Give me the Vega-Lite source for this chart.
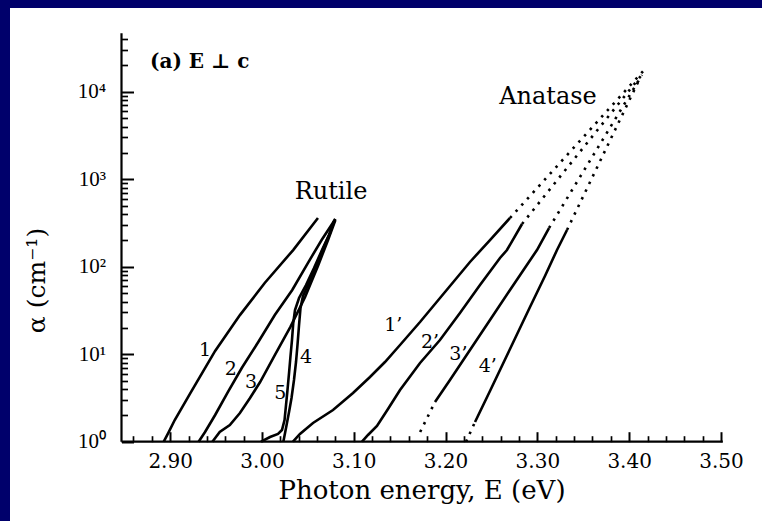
{
  "$schema": "https://vega.github.io/schema/vega-lite/v6.json",
  "width": 752,
  "height": 513,
  "autosize": {"type": "none"},
  "padding": {"left": 10, "top": 8, "right": 0, "bottom": 0},
  "background": "#00006b",
  "config": {"view": {"fill": "white", "stroke": null}, "axis": {"grid": false}},
  "datasets": {
    "solid": [
      {"curve": "1", "x": 2.893, "y": 1.0}, {"curve": "1", "x": 2.898, "y": 1.26}, {"curve": "1", "x": 2.905, "y": 1.77}, {"curve": "1", "x": 2.922, "y": 3.6}, {"curve": "1", "x": 2.949, "y": 10.9}, {"curve": "1", "x": 2.976, "y": 28.0}, {"curve": "1", "x": 3.003, "y": 65.1}, {"curve": "1", "x": 3.034, "y": 155}, {"curve": "1", "x": 3.061, "y": 360},
      {"curve": "2", "x": 2.931, "y": 1.0}, {"curve": "2", "x": 2.938, "y": 1.29}, {"curve": "2", "x": 2.949, "y": 2.02}, {"curve": "2", "x": 2.963, "y": 3.7}, {"curve": "2", "x": 2.978, "y": 6.96}, {"curve": "2", "x": 2.996, "y": 13.8}, {"curve": "2", "x": 3.014, "y": 28.0}, {"curve": "2", "x": 3.033, "y": 54.2}, {"curve": "2", "x": 3.05, "y": 110}, {"curve": "2", "x": 3.065, "y": 202}, {"curve": "2", "x": 3.08, "y": 351},
      {"curve": "3", "x": 2.946, "y": 1.0}, {"curve": "3", "x": 2.954, "y": 1.29}, {"curve": "3", "x": 2.965, "y": 1.55}, {"curve": "3", "x": 2.976, "y": 2.13}, {"curve": "3", "x": 2.987, "y": 3.16}, {"curve": "3", "x": 2.998, "y": 4.81}, {"curve": "3", "x": 3.014, "y": 9.79}, {"curve": "3", "x": 3.031, "y": 20.5}, {"curve": "3", "x": 3.047, "y": 45.0}, {"curve": "3", "x": 3.061, "y": 102}, {"curve": "3", "x": 3.072, "y": 202}, {"curve": "3", "x": 3.08, "y": 342},
      {"curve": "4", "x": 3.0233, "y": 1.0}, {"curve": "4", "x": 3.0262, "y": 1.434}, {"curve": "4", "x": 3.0295, "y": 2.185}, {"curve": "4", "x": 3.0322, "y": 3.158}, {"curve": "4", "x": 3.0349, "y": 5.073}, {"curve": "4", "x": 3.0371, "y": 8.145}, {"curve": "4", "x": 3.0387, "y": 12.74}, {"curve": "4", "x": 3.0404, "y": 21.56}, {"curve": "4", "x": 3.042, "y": 33.73}, {"curve": "4", "x": 3.0447, "y": 46.25}, {"curve": "4", "x": 3.0502, "y": 61.78}, {"curve": "4", "x": 3.0578, "y": 96.6}, {"curve": "4", "x": 3.0665, "y": 159.3}, {"curve": "4", "x": 3.0741, "y": 242.8}, {"curve": "4", "x": 3.0796, "y": 350.9},
      {"curve": "5", "x": 2.999, "y": 1.0}, {"curve": "5", "x": 3.0088, "y": 1.132}, {"curve": "5", "x": 3.0175, "y": 1.225}, {"curve": "5", "x": 3.0218, "y": 1.36}, {"curve": "5", "x": 3.0246, "y": 1.77}, {"curve": "5", "x": 3.0262, "y": 2.627}, {"curve": "5", "x": 3.0278, "y": 3.898}, {"curve": "5", "x": 3.0295, "y": 6.098}, {"curve": "5", "x": 3.0311, "y": 9.54}, {"curve": "5", "x": 3.0327, "y": 14.53}, {"curve": "5", "x": 3.0341, "y": 22.73}, {"curve": "5", "x": 3.036, "y": 32.0}, {"curve": "5", "x": 3.0404, "y": 43.88}, {"curve": "5", "x": 3.048, "y": 61.78}, {"curve": "5", "x": 3.0567, "y": 96.6}, {"curve": "5", "x": 3.0654, "y": 155.2}, {"curve": "5", "x": 3.073, "y": 230.3}, {"curve": "5", "x": 3.0785, "y": 333.0},
      {"curve": "1'", "x": 3.0338, "y": 1.0}, {"curve": "1'", "x": 3.0414, "y": 1.225}, {"curve": "1'", "x": 3.0556, "y": 1.636}, {"curve": "1'", "x": 3.0774, "y": 2.303}, {"curve": "1'", "x": 3.0992, "y": 3.602}, {"curve": "1'", "x": 3.1177, "y": 5.489}, {"curve": "1'", "x": 3.134, "y": 8.145}, {"curve": "1'", "x": 3.1504, "y": 12.74}, {"curve": "1'", "x": 3.1722, "y": 23.33}, {"curve": "1'", "x": 3.1994, "y": 51.39}, {"curve": "1'", "x": 3.2266, "y": 113.2}, {"curve": "1'", "x": 3.2484, "y": 201.9}, {"curve": "1'", "x": 3.2702, "y": 360.3},
      {"curve": "2'", "x": 3.109, "y": 1.0}, {"curve": "2'", "x": 3.1155, "y": 1.193}, {"curve": "2'", "x": 3.1253, "y": 1.512}, {"curve": "2'", "x": 3.1373, "y": 2.364}, {"curve": "2'", "x": 3.1504, "y": 3.898}, {"curve": "2'", "x": 3.1722, "y": 7.932}, {"curve": "2'", "x": 3.1939, "y": 14.53}, {"curve": "2'", "x": 3.2157, "y": 29.57}, {"curve": "2'", "x": 3.2375, "y": 61.78}, {"curve": "2'", "x": 3.2593, "y": 125.7}, {"curve": "2'", "x": 3.2669, "y": 155.2}, {"curve": "2'", "x": 3.2833, "y": 307.6},
      {"curve": "3'", "x": 3.1885, "y": 2.843}, {"curve": "3'", "x": 3.2048, "y": 5.073}, {"curve": "3'", "x": 3.2266, "y": 11.17}, {"curve": "3'", "x": 3.2484, "y": 24.59}, {"curve": "3'", "x": 3.2702, "y": 54.16}, {"curve": "3'", "x": 3.2996, "y": 155.2}, {"curve": "3'", "x": 3.3127, "y": 276.9},
      {"curve": "4'", "x": 3.2321, "y": 1.68}, {"curve": "4'", "x": 3.2484, "y": 3.797}, {"curve": "4'", "x": 3.2702, "y": 11.47}, {"curve": "4'", "x": 3.292, "y": 34.63}, {"curve": "4'", "x": 3.3083, "y": 78.3}, {"curve": "4'", "x": 3.3214, "y": 155.2}, {"curve": "4'", "x": 3.3323, "y": 262.7}
    ],
    "dotted": [
      {"curve": "1'hi", "x": 3.2702, "y": 360.3}, {"curve": "1'hi", "x": 3.4183, "y": 18660},
      {"curve": "2'hi", "x": 3.2833, "y": 307.6}, {"curve": "2'hi", "x": 3.4162, "y": 16800},
      {"curve": "3'hi", "x": 3.3127, "y": 276.9}, {"curve": "3'hi", "x": 3.414, "y": 15520},
      {"curve": "4'hi", "x": 3.3323, "y": 262.7}, {"curve": "4'hi", "x": 3.4118, "y": 14340},
      {"curve": "3'lo", "x": 3.1723, "y": 1.29}, {"curve": "3'lo", "x": 3.1885, "y": 2.843},
      {"curve": "4'lo", "x": 3.2223, "y": 1.0}, {"curve": "4'lo", "x": 3.2321, "y": 1.68}
    ],
    "curvelabels": [
      {"t": "1", "x": 2.938, "y": 11.2}, {"t": "2", "x": 2.966, "y": 6.77}, {"t": "3", "x": 2.988, "y": 4.81}, {"t": "5", "x": 3.02, "y": 3.6}, {"t": "4", "x": 3.048, "y": 9.29},
      {"t": "1’", "x": 3.143, "y": 21.6}, {"t": "2’", "x": 3.183, "y": 13.8}, {"t": "3’", "x": 3.214, "y": 10.05}, {"t": "4’", "x": 3.246, "y": 7.33}
    ],
    "names": [
      {"t": "Rutile", "x": 3.0752, "y": 714},
      {"t": "Anatase", "x": 3.3116, "y": 8700}
    ],
    "panel": [
      {"t": "(a)   E ⊥ c", "x": 2.878, "y": 21850}
    ],
    "axislines": [
      {"x": 2.847, "x2": 3.502, "y": 1, "y2": 1},
      {"x": 2.847, "x2": 2.847, "y": 1, "y2": 46500}
    ]
  },
  "resolve": {"axis": {"x": "independent", "y": "independent"}},
  "layer": [
    {
      "data": {"name": "solid"},
      "mark": {"type": "line", "color": "black", "strokeWidth": 2.6},
      "encoding": {
        "detail": {"field": "curve"},
        "x": {
          "field": "x", "type": "quantitative",
          "scale": {"domain": [2.72554, 3.54471], "nice": false, "zero": false},
          "axis": {
            "orient": "bottom", "offset": -79.3,
            "values": [2.86, 2.88, 2.9, 2.92, 2.94, 2.96, 2.98, 3.0, 3.02, 3.04, 3.06, 3.08, 3.1, 3.12, 3.14, 3.16, 3.18, 3.2, 3.22, 3.24, 3.26, 3.28, 3.3, 3.32, 3.34, 3.36, 3.38, 3.4, 3.42, 3.44, 3.46, 3.48, 3.5],
            "labelExpr": "abs(datum.value*10 - round(datum.value*10)) < 0.01 ? format(datum.value, '.2f') : ''",
            "labelOverlap": false, "labelFlush": false, "labelBound": false,
            "domain": false,
            "tickSize": {"condition": {"test": "abs(datum.value*10 - round(datum.value*10)) < 0.01", "value": -10}, "value": -6},
            "tickWidth": {"condition": {"test": "abs(datum.value*10 - round(datum.value*10)) < 0.01", "value": 2}, "value": 1.7},
            "tickColor": "black",
            "labelFont": "DejaVu Serif", "labelFontSize": 20, "labelColor": "black", "labelPadding": 20,
            "title": "Photon energy, E (eV)", "titleFont": "DejaVu Serif", "titleFontSize": 26, "titleFontWeight": "normal",
            "titleColor": "black", "titleX": 411.5, "titleY": 57, "titleBaseline": "alphabetic", "titleAlign": "center"
          }
        },
        "y": {
          "field": "y", "type": "quantitative",
          "scale": {"type": "log", "domain": [0.12411, 90500], "nice": false},
          "axis": {
            "orient": "left", "offset": -111.5,
            "values": [1, 2, 3, 4, 5, 6, 7, 8, 9, 10, 20, 30, 40, 50, 60, 70, 80, 90, 100, 200, 300, 400, 500, 600, 700, 800, 900, 1000, 2000, 3000, 4000, 5000, 6000, 7000, 8000, 9000, 10000, 20000, 30000, 40000],
            "labelExpr": "abs(log(datum.value)/LN10 - round(log(datum.value)/LN10)) < 0.001 ? '10' + ['⁰','¹','²','³','⁴'][round(log(datum.value)/LN10)] : ''",
            "labelOverlap": false, "labelFlush": false, "labelBound": false,
            "domain": false,
            "tickSize": {"condition": {"test": "abs(log(datum.value)/LN10 - round(log(datum.value)/LN10)) < 0.001", "value": -12}, "value": -6},
            "tickWidth": {"condition": {"test": "abs(log(datum.value)/LN10 - round(log(datum.value)/LN10)) < 0.001", "value": 2}, "value": 1.7},
            "tickColor": "black",
            "labelFont": "Liberation Serif", "labelFontSize": 21, "labelColor": "black", "labelPadding": 28,
            "title": "α (cm⁻¹)", "titleFont": "DejaVu Serif", "titleFontSize": 25, "titleFontWeight": "normal",
            "titleColor": "black", "titleX": -85, "titleY": 272, "titleAngle": -90, "titleBaseline": "middle", "titleAlign": "center"
          }
        }
      }
    },
    {
      "data": {"name": "dotted"},
      "mark": {"type": "line", "color": "black", "strokeWidth": 2.6, "strokeDash": [2.5, 6]},
      "encoding": {
        "detail": {"field": "curve"},
        "x": {"field": "x", "type": "quantitative", "axis": null},
        "y": {"field": "y", "type": "quantitative", "axis": null}
      }
    },
    {
      "data": {"name": "axislines"},
      "mark": {"type": "rule", "color": "black", "strokeWidth": 2.2},
      "encoding": {
        "x": {"field": "x", "type": "quantitative", "axis": null},
        "x2": {"field": "x2"},
        "y": {"field": "y", "type": "quantitative", "axis": null},
        "y2": {"field": "y2"}
      }
    },
    {
      "data": {"name": "curvelabels"},
      "mark": {"type": "text", "font": "DejaVu Serif", "fontSize": 19, "color": "black", "align": "center", "baseline": "middle"},
      "encoding": {
        "x": {"field": "x", "type": "quantitative", "axis": null},
        "y": {"field": "y", "type": "quantitative", "axis": null},
        "text": {"field": "t"}
      }
    },
    {
      "data": {"name": "names"},
      "mark": {"type": "text", "font": "DejaVu Serif", "fontSize": 24, "color": "black", "align": "center", "baseline": "middle"},
      "encoding": {
        "x": {"field": "x", "type": "quantitative", "axis": null},
        "y": {"field": "y", "type": "quantitative", "axis": null},
        "text": {"field": "t"}
      }
    },
    {
      "data": {"name": "panel"},
      "mark": {"type": "text", "font": "DejaVu Serif", "fontSize": 20, "fontWeight": "bold", "color": "black", "align": "left", "baseline": "middle"},
      "encoding": {
        "x": {"field": "x", "type": "quantitative", "axis": null},
        "y": {"field": "y", "type": "quantitative", "axis": null},
        "text": {"field": "t"}
      }
    }
  ]
}
